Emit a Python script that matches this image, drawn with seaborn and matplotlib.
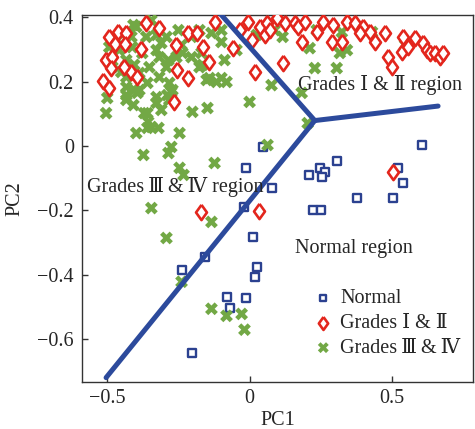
import matplotlib
matplotlib.use('Agg')
import matplotlib.pyplot as plt
import seaborn as sns

# Normal samples
normal_pc1 = [0.046, -0.014, 0.306, 0.246, 0.208, 0.264, 0.254, 0.606, 0.521, 0.539,
              0.504, 0.377, 0.077, 0.222, 0.250, -0.021, 0.011, 0.025, 0.018, -0.158,
              -0.239, -0.081, -0.014, -0.070, -0.201]
normal_pc2 = [-0.003, -0.068, -0.047, -0.068, -0.090, -0.081, -0.096, 0.003, -0.068, -0.115,
              -0.161, -0.161, -0.130, -0.199, -0.199, -0.189, -0.283, -0.376, -0.407, -0.345,
              -0.385, -0.469, -0.472, -0.503, -0.643]

# Grades I & II
g12_pc1 = [-0.493, -0.461, -0.433, -0.472, -0.437, -0.504, -0.482, -0.486, -0.514, -0.493,
           -0.363, -0.317, -0.380, -0.415, -0.440, -0.394, -0.257, -0.254, -0.218, -0.264,
           -0.218, -0.183, -0.165, -0.141, -0.123, -0.060, 0.018, 0.116,
           -0.035, -0.007, 0.007, 0.035, 0.053, 0.060, 0.070, 0.095, 0.123, 0.158,
           0.169, 0.194, 0.183, 0.236, 0.257, 0.292, 0.289, 0.324, 0.342, 0.370,
           0.398, 0.387, 0.423, 0.440, 0.475, 0.486, 0.500, 0.539, 0.535, 0.556,
           0.581, 0.609, 0.623, 0.634, 0.651, 0.669, 0.680,
           -0.169, 0.032, 0.504]
g12_pc2 = [0.339, 0.354, 0.351, 0.317, 0.317, 0.267, 0.276, 0.242, 0.202, 0.180,
           0.382, 0.366, 0.301, 0.230, 0.245, 0.214, 0.314, 0.236, 0.211, 0.137,
           0.351, 0.351, 0.307, 0.261, 0.385, 0.304, 0.230, 0.258,
           0.360, 0.385, 0.329, 0.370, 0.345, 0.382, 0.360, 0.398, 0.382, 0.382,
           0.370, 0.385, 0.323, 0.354, 0.385, 0.376, 0.323, 0.323, 0.385, 0.382,
           0.370, 0.351, 0.354, 0.323, 0.351, 0.276, 0.245, 0.339, 0.292, 0.307,
           0.335, 0.320, 0.298, 0.289, 0.289, 0.276, 0.289,
           -0.205, -0.202, -0.081]

# Grades III & IV
g34_pc1 = [-0.500, -0.504, -0.433, -0.394, -0.327, -0.359, -0.289, -0.282, -0.201, -0.148,
           0.000, -0.151, -0.116, -0.081, -0.099, -0.088, -0.046, -0.176, -0.169, -0.317,
           -0.352, -0.377, -0.412, -0.458, -0.482, -0.433, -0.387, -0.292, -0.327, -0.292,
           -0.257, -0.363, -0.398, -0.345, -0.387, -0.433, -0.465, -0.493, -0.282, -0.271,
           -0.236, -0.327, -0.317, -0.433, -0.415, -0.451, -0.405, -0.359, -0.204, -0.176,
           -0.134, -0.099, -0.099, -0.204, -0.165, -0.141, 0.077, -0.408, -0.250, -0.310,
           -0.285, -0.239,
           0.025, 0.088, 0.116, 0.211, 0.229, 0.306, 0.317, 0.342, 0.324, 0.430,
           0.546, 0.183, 0.204, 0.236,
           -0.433, -0.408, -0.405, -0.370, -0.356, -0.345, -0.320, -0.398, -0.327, -0.310,
           -0.275, -0.246, -0.275, -0.285, -0.373, -0.246, -0.232, -0.123, -0.345, -0.359,
           -0.134, -0.292, 0.063, -0.239, -0.134, -0.081, -0.028, -0.018]
g34_pc2 = [0.149, 0.102, 0.143, 0.165, 0.152, 0.102, 0.158, 0.143, 0.106, 0.118,
           0.137, 0.205, 0.199, 0.199, 0.211, 0.267, 0.298, 0.245, 0.289, 0.214,
           0.245, 0.289, 0.307, 0.298, 0.245, 0.214, 0.227, 0.245, 0.298, 0.339,
           0.276, 0.339, 0.370, 0.391, 0.174, 0.183, 0.329, 0.307, 0.196, 0.174,
           0.289, 0.345, 0.276, 0.267, 0.339, 0.230, 0.252, 0.196, 0.339, 0.360,
           0.351, 0.360, 0.323, 0.276, 0.252, 0.211, 0.189, 0.376, 0.360, 0.320,
           0.267, 0.314,
           0.345, 0.360, 0.339, 0.304, 0.242, 0.242, 0.289, 0.298, 0.354, 0.354,
           0.314, 0.165, 0.071, 0.360,
           0.158, 0.127, 0.174, 0.102, 0.075, 0.059, 0.056, 0.040, 0.134, 0.112,
           0.168, 0.040, -0.003, -0.022, -0.028, -0.068, -0.090, -0.053, -0.193, 0.056,
           -0.236, -0.286, 0.003, -0.422, -0.506, -0.528, -0.522, -0.571]

# decision boundaries (meet at one junction)
junction = (0.229, 0.079)
bound_top = (-0.112, 0.42)
bound_right = (0.662, 0.124)
bound_low = (-0.504, -0.72)

blue = '#2b4190'
red = '#e3261d'
green = '#72a845'
line_blue = '#2c4a9c'

sns.set_style('ticks')
plt.rcParams['font.family'] = ['Liberation Serif', 'DejaVu Serif']
plt.rcParams['axes.unicode_minus'] = True
fs = 14.5

# diamond a bit narrower than it is tall
diamond = [(0, 1), (0.72, 0), (0, -1), (-0.72, 0), (0, 1)]

lab12 = 'Grades \u2160 & \u2161'
lab34 = 'Grades\u2009\u2162\u2009&\u2009\u2163'

fig = plt.figure(figsize=(4.75, 4.29), dpi=100)
ax = fig.add_axes([0.173, 0.110, 0.823, 0.855])

sns.scatterplot(x=normal_pc1, y=normal_pc2, marker='s', s=34, color=blue,
                facecolor='white', edgecolor=blue, linewidth=1.7,
                label='Normal', ax=ax, zorder=3)
sns.scatterplot(x=g34_pc1, y=g34_pc2, marker='X', s=85, color=green,
                edgecolor='none', linewidth=0,
                label=lab34, ax=ax, zorder=3)
sns.scatterplot(x=g12_pc1, y=g12_pc2, marker=diamond, s=120, color=red,
                facecolor='white', edgecolor=red, linewidth=1.9,
                label=lab12, ax=ax, zorder=4)

for end in [bound_top, bound_right, bound_low]:
    sns.lineplot(x=[junction[0], end[0]], y=[junction[1], end[1]], sort=False,
                 color=line_blue, linewidth=3.6, ax=ax, legend=False, zorder=5)

ax.text(0.169, 0.174, lab12 + ' region', fontsize=fs, ha='left', va='baseline', zorder=6)
ax.text(-0.570, -0.143, lab34 + ' region', fontsize=fs, ha='left', va='baseline', zorder=6)
ax.text(0.158, -0.332, 'Normal region', fontsize=fs, ha='left', va='baseline', zorder=6)

ax.set_xlim(-0.588, 0.785)
ax.set_ylim(-0.733, 0.407)
ax.set_xticks([-0.5, 0, 0.5])
ax.set_xticklabels(['\u22120.5', '0', '0.5'])
ax.set_yticks([-0.6, -0.4, -0.2, 0, 0.2, 0.4])
ax.set_yticklabels(['\u22120.6', '\u22120.4', '\u22120.2', '0', '0.2', '0.4'])
ax.tick_params(direction='in', length=4, width=1, labelsize=fs, color='#333333')
ax.tick_params(axis='y', pad=6)
ax.tick_params(axis='x', pad=5)
for sp in ax.spines.values():
    sp.set_visible(True)
    sp.set_color('#333333')
    sp.set_linewidth(1.0)

ax.set_xlabel('PC1', fontsize=fs, labelpad=2)
ax.set_ylabel('PC2', fontsize=fs, labelpad=9)

handles, labels = ax.get_legend_handles_labels()
order = [0, 2, 1]
ax.legend([handles[i] for i in order], [labels[i] for i in order],
          loc='upper left', bbox_to_anchor=(0.591, 0.252), frameon=False,
          fontsize=fs, handlelength=1.0, handletextpad=0.35, labelspacing=0.28,
          borderpad=0, borderaxespad=0, markerscale=0.85)

fig.savefig('out.png', dpi=100)
